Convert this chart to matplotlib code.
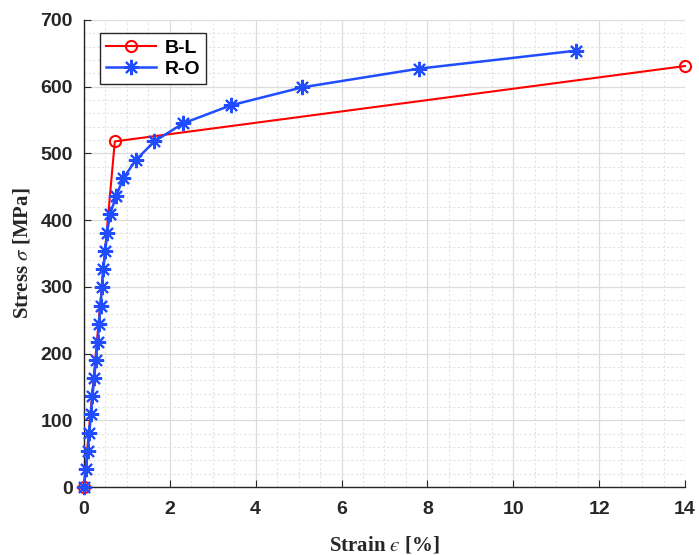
import matplotlib
matplotlib.use("Agg")
import matplotlib.pyplot as plt
from matplotlib.ticker import MultipleLocator

# Bilinear (B-L) model
bl_strain = [0.0, 0.72, 14.0]
bl_stress = [0.0, 518.0, 631.0]

# Ramberg-Osgood (R-O) model
ro_strain = [0.0, 0.05, 0.09, 0.13, 0.16, 0.20, 0.24, 0.28, 0.32, 0.35,
             0.39, 0.42, 0.45, 0.50, 0.54, 0.61, 0.75, 0.92, 1.21, 1.64,
             2.31, 3.42, 5.08, 7.80, 11.46]
ro_stress = [0, 27, 54, 81, 109, 136, 163, 191, 218, 245,
             272, 300, 327, 354, 381, 409, 436, 463, 490, 518,
             545, 572, 599, 627, 654]

red = "#ff0000"
blue = "#1f4dff"

plt.rcParams["mathtext.fontset"] = "stix"

fig = plt.figure(figsize=(6.99, 5.55), dpi=100)
ax = fig.add_axes([0.120, 0.1225, 0.860, 0.8415])

ax.plot(bl_strain, bl_stress, color=red, lw=1.5, marker="o", ms=8,
        mfc="none", mec=red, mew=1.5, label="B-L", clip_on=False, zorder=3)
ax.plot(ro_strain, ro_stress, color=blue, lw=1.8, marker=(8, 2, 0), ms=11,
        mec=blue, mew=1.5, label="R-O", clip_on=False, zorder=3)

ax.set_xlim(0, 14)
ax.set_ylim(0, 700)
ax.xaxis.set_major_locator(MultipleLocator(2))
ax.xaxis.set_minor_locator(MultipleLocator(0.5))
ax.yaxis.set_major_locator(MultipleLocator(100))
ax.yaxis.set_minor_locator(MultipleLocator(20))

ax.grid(which="major", color="#dcdcdc", lw=0.9, ls="-")
ax.grid(which="minor", color="#e2e2e2", lw=0.8, ls=(0, (2, 2)))
ax.set_axisbelow(True)

for s in ("top", "right"):
    ax.spines[s].set_visible(False)
for s in ("left", "bottom"):
    ax.spines[s].set_color("#262626")
    ax.spines[s].set_linewidth(1.0)

ax.tick_params(which="both", direction="in", colors="#262626", labelsize=14)
ax.tick_params(axis="x", pad=10)
ax.tick_params(axis="y", pad=8)
ax.tick_params(which="major", length=5)
ax.tick_params(which="minor", length=0)
for lab in ax.get_xticklabels() + ax.get_yticklabels():
    lab.set_fontfamily("Liberation Sans")
    lab.set_fontweight("bold")

ax.set_xlabel("Strain $\u03f5$ [%]", fontsize=15, fontfamily="Liberation Serif",
              fontweight="bold", color="#262626", labelpad=12)
ax.set_ylabel(r"Stress $\sigma$ [MPa]", fontsize=15, fontfamily="Liberation Serif",
              fontweight="bold", color="#262626", labelpad=6)

leg = ax.legend(loc="upper left", bbox_to_anchor=(0.027, 0.972), fancybox=False,
                edgecolor="#262626", framealpha=1,
                prop={"family": "Liberation Sans", "weight": "bold", "size": 14},
                handlelength=2.6, borderpad=0.3, labelspacing=0.2,
                handletextpad=0.4, borderaxespad=0)
leg.get_frame().set_linewidth(1.0)
leg.set_zorder(5)

fig.savefig("out.png", dpi=100)
